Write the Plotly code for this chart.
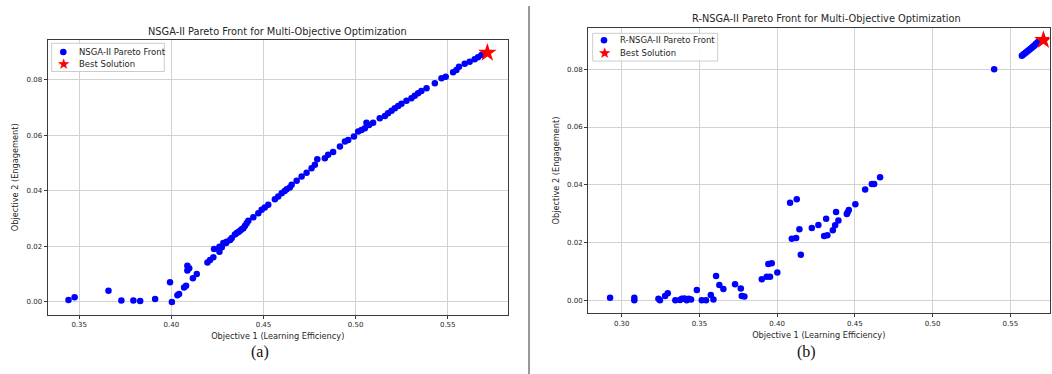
import plotly.graph_objects as go

# ---------------- data: NSGA-II (panel a) ----------------
nsga_x = [0.3442, 0.3475, 0.3659, 0.3729, 0.3794, 0.3831, 0.3912, 0.3993, 0.4003, 0.4033,
          0.4042, 0.4069, 0.4080, 0.4117, 0.4138, 0.4087, 0.4097, 0.4087, 0.4196, 0.4210,
          0.4228, 0.4232, 0.4261, 0.4274, 0.4297, 0.4319, 0.4328, 0.4355, 0.4261, 0.4282,
          0.4300, 0.4345, 0.4364, 0.4373, 0.4382, 0.4391, 0.4400, 0.4409, 0.4418, 0.4445,
          0.4472, 0.4490, 0.4507, 0.4526, 0.4562, 0.4580, 0.4599, 0.4615, 0.4626, 0.4643,
          0.4653, 0.4680, 0.4707, 0.4734, 0.4761, 0.4779, 0.4792, 0.4833, 0.4851, 0.4878,
          0.4915, 0.4942, 0.4960, 0.4991, 0.5014, 0.5032, 0.5050, 0.5059, 0.5073, 0.5095,
          0.5131, 0.5159, 0.5176, 0.5195, 0.5213, 0.5231, 0.5249, 0.5276, 0.5303, 0.5321,
          0.5339, 0.5357, 0.5385, 0.5430, 0.5466, 0.5489, 0.5529, 0.5547, 0.5561, 0.5592,
          0.5619, 0.5646, 0.5664, 0.5683]
nsga_y = [0.0007, 0.0017, 0.0040, 0.0005, 0.0005, 0.0003, 0.0011, 0.0071, 0.0000, 0.0024,
          0.0029, 0.0052, 0.0058, 0.0085, 0.0101, 0.0130, 0.0121, 0.0113, 0.0142, 0.0151,
          0.0161, 0.0191, 0.0181, 0.0197, 0.0212, 0.0223, 0.0230, 0.0248, 0.0199, 0.0212,
          0.0217, 0.0243, 0.0252, 0.0257, 0.0262, 0.0266, 0.0275, 0.0284, 0.0293, 0.0305,
          0.0320, 0.0332, 0.0340, 0.0350, 0.0370, 0.0380, 0.0392, 0.0400, 0.0406, 0.0412,
          0.0422, 0.0437, 0.0452, 0.0466, 0.0482, 0.0494, 0.0514, 0.0518, 0.0530, 0.0540,
          0.0560, 0.0578, 0.0584, 0.0596, 0.0614, 0.0620, 0.0626, 0.0646, 0.0638, 0.0646,
          0.0662, 0.0670, 0.0680, 0.0689, 0.0698, 0.0706, 0.0714, 0.0725, 0.0734, 0.0743,
          0.0752, 0.0760, 0.0770, 0.0788, 0.0806, 0.0812, 0.0828, 0.0836, 0.0848, 0.0858,
          0.0866, 0.0875, 0.0882, 0.0890]
nsga_best_x = [0.5715]
nsga_best_y = [0.0898]

# ---------------- data: R-NSGA-II (panel b) ----------------
rnsga_x = [0.2925, 0.3081, 0.3081, 0.3236, 0.3246, 0.3279, 0.3296, 0.3345, 0.3375, 0.3386,
           0.3403, 0.3418, 0.3430, 0.3446, 0.3483, 0.3515, 0.3542, 0.3573, 0.3590, 0.3607,
           0.3628, 0.3654, 0.3729, 0.3766, 0.3772, 0.3789, 0.3901, 0.3933, 0.3954, 0.3943,
           0.3965, 0.4001, 0.4083, 0.4126, 0.4143, 0.4094, 0.4122, 0.4152, 0.4223, 0.4265,
           0.4315, 0.4379, 0.4302, 0.4323, 0.4358, 0.4373, 0.4394, 0.4448, 0.4453, 0.4461,
           0.4503, 0.4566, 0.4609, 0.4624, 0.4662, 0.5396,
           0.5574, 0.5582, 0.5590, 0.5598, 0.5606, 0.5614, 0.5622, 0.5630, 0.5638, 0.5645,
           0.5652, 0.5659, 0.5666, 0.5673, 0.5681]
rnsga_y = [0.0009, 0.0009, 0.0000, 0.0005, 0.0000, 0.0015, 0.0024, 0.0000, 0.0001, 0.0005,
           0.0006, 0.0000, 0.0005, 0.0003, 0.0036, 0.0000, 0.0000, 0.0018, 0.0003, 0.0084,
           0.0053, 0.0039, 0.0056, 0.0041, 0.0015, 0.0013, 0.0073, 0.0082, 0.0082, 0.0126,
           0.0128, 0.0096, 0.0338, 0.0350, 0.0246, 0.0213, 0.0216, 0.0158, 0.0250, 0.0261,
           0.0282, 0.0306, 0.0223, 0.0225, 0.0243, 0.0260, 0.0276, 0.0299, 0.0304, 0.0313,
           0.0333, 0.0384, 0.0403, 0.0403, 0.0426, 0.0800,
           0.0847, 0.0850, 0.0854, 0.0857, 0.0861, 0.0864, 0.0868, 0.0871, 0.0875, 0.0878,
           0.0881, 0.0885, 0.0888, 0.0892, 0.0896]
rnsga_best_x = [0.5713]
rnsga_best_y = [0.0901]

x_ticks_a = [0.35, 0.40, 0.45, 0.50, 0.55]
x_ticks_b = [0.30, 0.35, 0.40, 0.45, 0.50, 0.55]
y_ticks = [0.00, 0.02, 0.04, 0.06, 0.08]

FONT = "DejaVu Sans"
TXT = "#262626"
W, H = 1052, 374
TICK_SIZE = 7
LABEL_SIZE = 8.2
TITLE_SIZE = 9.8
LEG_SIZE = 8.5

fig = go.Figure()
fig.add_trace(go.Scatter(x=nsga_x, y=nsga_y, mode="markers", name="NSGA-II Pareto Front",
                         marker=dict(color="blue", size=6.5), xaxis="x", yaxis="y"))
fig.add_trace(go.Scatter(x=nsga_best_x, y=nsga_best_y, mode="markers", name="Best Solution",
                         marker=dict(color="red", size=14, symbol="star"), xaxis="x", yaxis="y"))
fig.add_trace(go.Scatter(x=rnsga_x, y=rnsga_y, mode="markers", name="R-NSGA-II Pareto Front",
                         marker=dict(color="blue", size=6.5), xaxis="x2", yaxis="y2"))
fig.add_trace(go.Scatter(x=rnsga_best_x, y=rnsga_best_y, mode="markers", name="Best Solution",
                         marker=dict(color="red", size=14, symbol="star"), xaxis="x2", yaxis="y2"))


def px_x(p):
    return p / W


def px_y(p):
    return (H - p) / H


axis_common = dict(showgrid=True, gridcolor="#d3d3d3", gridwidth=1, zeroline=False,
                   showline=True, linecolor="#3a3a3a", linewidth=1, mirror=True,
                   ticks="outside", ticklen=3, tickcolor="#3a3a3a", automargin=False,
                   tickfont=dict(family=FONT, size=TICK_SIZE, color=TXT))


def legend_items(box, sym_x, text_x, rows, labels):
    """Build a matplotlib-like compact legend (box + symbol + label)."""
    shapes = [dict(type="rect", xref="paper", yref="paper",
                   x0=px_x(box[0]), x1=px_x(box[1]), y0=px_y(box[3]), y1=px_y(box[2]),
                   line=dict(color="#cccccc", width=1), fillcolor="rgba(255,255,255,0.85)")]
    r = 3.3
    shapes.append(dict(type="circle", xref="paper", yref="paper",
                       x0=px_x(sym_x - r), x1=px_x(sym_x + r),
                       y0=px_y(rows[0] + r), y1=px_y(rows[0] - r),
                       line=dict(width=0), fillcolor="blue"))
    anns = [dict(text="\u2605", xref="paper", yref="paper", x=px_x(sym_x), y=px_y(rows[1]),
                 xanchor="center", yanchor="middle", showarrow=False,
                 font=dict(family=FONT, size=15, color="red"))]
    for ry, lab in zip(rows, labels):
        anns.append(dict(text=lab, xref="paper", yref="paper", x=px_x(text_x), y=px_y(ry),
                         xanchor="left", yanchor="middle", showarrow=False,
                         font=dict(family=FONT, size=LEG_SIZE, color=TXT)))
    return shapes, anns


leg1_shapes, leg1_anns = legend_items((51.7, 164.3, 43.3, 71.5), 63.3, 76.5, (52, 63.7),
                                      ("NSGA-II Pareto Front", "Best Solution"))
leg2_shapes, leg2_anns = legend_items((592.7, 717.7, 33.3, 61), 604, 618, (40.3, 52.7),
                                      ("R-NSGA-II Pareto Front", "Best Solution"))

fig.update_layout(
    width=W, height=H,
    margin=dict(l=0, r=0, t=0, b=0, autoexpand=False),
    paper_bgcolor="white", plot_bgcolor="white",
    showlegend=False,
    xaxis=dict(axis_common, domain=[px_x(47.5), px_x(508)], range=[0.3328, 0.5827],
               tickvals=x_ticks_a, ticktext=["%.2f" % v for v in x_ticks_a], anchor="y",
               title=dict(text="Objective 1 (Learning Efficiency)", standoff=5,
                          font=dict(family=FONT, size=LABEL_SIZE, color=TXT))),
    yaxis=dict(axis_common, domain=[px_y(314.7), px_y(40)], range=[-0.0046, 0.0944],
               tickvals=y_ticks, ticktext=["%.2f" % v for v in y_ticks], anchor="x",
               title=dict(text="Objective 2 (Engagement)", standoff=6,
                          font=dict(family=FONT, size=LABEL_SIZE, color=TXT))),
    xaxis2=dict(axis_common, domain=[px_x(588), px_x(1049.5)], range=[0.2783, 0.5752],
                tickvals=x_ticks_b, ticktext=["%.2f" % v for v in x_ticks_b], anchor="y2",
                title=dict(text="Objective 1 (Learning Efficiency)", standoff=5,
                           font=dict(family=FONT, size=LABEL_SIZE, color=TXT))),
    yaxis2=dict(axis_common, domain=[px_y(313.3), px_y(27.7)], range=[-0.0045, 0.0944],
                tickvals=y_ticks, ticktext=["%.2f" % v for v in y_ticks], anchor="x2",
                title=dict(text="Objective 2 (Engagement)", standoff=6,
                           font=dict(family=FONT, size=LABEL_SIZE, color=TXT))),
    annotations=[
        dict(text="NSGA-II Pareto Front for Multi-Objective Optimization", xref="paper", yref="paper",
             x=px_x(277.7), y=px_y(31.5), xanchor="center", yanchor="middle", showarrow=False,
             font=dict(family=FONT, size=TITLE_SIZE, color=TXT)),
        dict(text="R-NSGA-II Pareto Front for Multi-Objective Optimization", xref="paper", yref="paper",
             x=px_x(826), y=px_y(19), xanchor="center", yanchor="middle", showarrow=False,
             font=dict(family=FONT, size=TITLE_SIZE, color=TXT)),
        dict(text="(a)", xref="paper", yref="paper", x=px_x(260), y=px_y(352),
             xanchor="center", yanchor="middle", showarrow=False,
             font=dict(family="Liberation Serif", size=16, color="#111111")),
        dict(text="(b)", xref="paper", yref="paper", x=px_x(806), y=px_y(352),
             xanchor="center", yanchor="middle", showarrow=False,
             font=dict(family="Liberation Serif", size=16, color="#111111")),
    ] + leg1_anns + leg2_anns,
    shapes=[dict(type="line", xref="paper", yref="paper", x0=px_x(529), x1=px_x(529),
                 y0=0, y1=px_y(6), line=dict(color="#333333", width=1))] + leg1_shapes + leg2_shapes,
)

fig.write_html("out.html", config={"displayModeBar": False},
               post_script="document.body.style.margin='0px';")
